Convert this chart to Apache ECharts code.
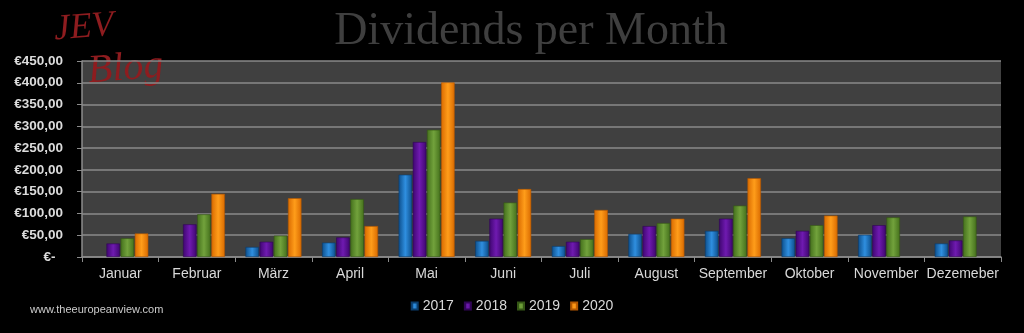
<!DOCTYPE html>
<html>
<head>
<meta charset="utf-8">
<script src="https://cdn.jsdelivr.net/npm/echarts@6/dist/echarts.min.js"></script>
<style>
html,body{margin:0;padding:0;background:#000;}
#chart{width:1024px;height:333px;}
</style>
</head>
<body>
<div id="chart"></div>
<script>
const categories = ['Januar','Februar','März','April','Mai','Juni','Juli','August','September','Oktober','November','Dezemeber'];
const years = ['2017','2018','2019','2020'];
const v2017 = [null, null, 23, 33, 189, 37, 25, 53, 60, 43, 51, 31];
const v2018 = [31, 75, 35, 45, 264, 88, 35, 71, 88, 60, 73, 38];
const v2019 = [43, 98, 49, 133, 292, 125, 41, 78, 118, 73, 91, 93];
const v2020 = [54, 145, 135, 71, 401, 156, 108, 88, 181, 95, null, null];
const yTicks = {min: 0, max: 450, interval: 50};

const palette = [
  {dark:'#0d4f8c', light:'#2f8fe0', border:'#0a3d6d'},
  {dark:'#3f0670', light:'#6f1ab0', border:'#300556'},
  {dark:'#44701c', light:'#72a23c', border:'#355716'},
  {dark:'#d96a00', light:'#ff9d1a', border:'#b35700'}
];
const seriesValues = [v2017, v2018, v2019, v2020];

const chart = echarts.init(document.getElementById('chart'));
const series = years.map((y, i) => ({
  name: y,
  type: 'bar',
  data: seriesValues[i],
  barWidth: 13.5,
  barGap: '5%',
  itemStyle: {
    color: new echarts.graphic.LinearGradient(0, 0, 1, 0, [
      {offset: 0, color: palette[i].dark},
      {offset: 0.5, color: palette[i].light},
      {offset: 1, color: palette[i].dark}
    ]),
    borderColor: palette[i].border,
    borderWidth: 0.6
  }
}));

chart.setOption({
  backgroundColor: '#000',
  animation: false,
  grid: {left: 82, right: 23, top: 61, bottom: 76, show: true, backgroundColor: '#404040', borderWidth: 0},
  legend: {
    data: years,
    top: 294,
    left: 'center',
    icon: 'rect',
    itemWidth: 6,
    itemHeight: 7,
    itemGap: 10,
    textStyle: {color: '#d9d9d9', fontSize: 14, fontFamily: 'Liberation Sans'}
  },
  xAxis: {
    type: 'category',
    data: categories,
    axisLine: {lineStyle: {color: '#8c8c8c', width: 1.5}},
    axisTick: {show: true, length: 5, lineStyle: {color: '#8c8c8c'}},
    axisLabel: {color: '#d9d9d9', fontSize: 14, fontFamily: 'Liberation Sans', margin: 10, interval: 0}
  },
  yAxis: {
    type: 'value',
    min: yTicks.min, max: yTicks.max, interval: yTicks.interval,
    axisLine: {show: true, lineStyle: {color: '#8c8c8c', width: 1.5}},
    axisTick: {show: true, length: 5, lineStyle: {color: '#8c8c8c'}},
    splitLine: {lineStyle: {color: '#8a8a8a', width: 1.5}},
    axisLabel: {
      color: '#dcdcdc', fontSize: 13.5, fontWeight: 'bold', fontFamily: 'Liberation Sans', margin: 19,
      formatter: v => v === 0 ? '€-  ' : '€' + v + ',00'
    }
  },
  graphic: [
    {type: 'text', x: 531, y: 32, style: {text: 'Dividends per Month', font: '46px "Liberation Serif"', fill: '#3f3f3f', textAlign: 'center', textVerticalAlign: 'middle'}},
    {type: 'text', x: 54, y: 30, rotation: 0.08, style: {text: 'JEV', font: 'italic 36px "Liberation Serif"', fill: '#8e1c1f', textAlign: 'left', textVerticalAlign: 'middle'}},
    {type: 'text', x: 88, y: 72, rotation: 0.08, style: {text: 'Blog', font: 'italic 40px "Liberation Serif"', fill: '#8e1c1f', textAlign: 'left', textVerticalAlign: 'middle'}},
    {type: 'text', x: 30, y: 310, style: {text: 'www.theeuropeanview.com', font: '11px "Liberation Sans"', fill: '#cccccc', textAlign: 'left', textVerticalAlign: 'middle'}}
  ],
  series: series
});
</script>
</body>
</html>
